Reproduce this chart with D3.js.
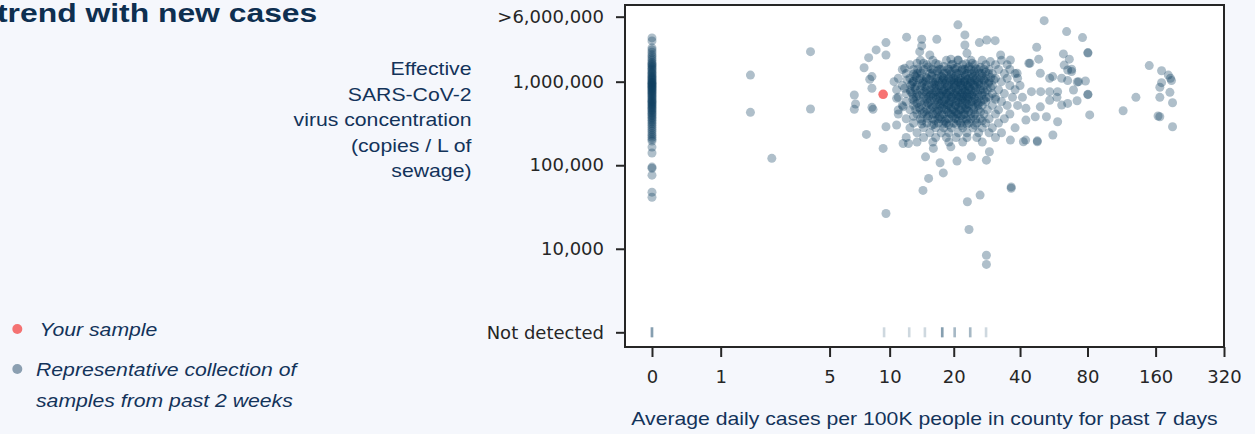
<!DOCTYPE html>
<html><head><meta charset="utf-8">
<script src="https://cdn.jsdelivr.net/npm/d3@7"></script>
<style>
html,body{margin:0;padding:0;background:#f5f7fc;overflow:hidden;}
svg{display:block;}
</style></head><body>
<svg id="chart" width="1255" height="434"></svg>
<script>
// ---- data ----
const titleText = "trend with new cases";
const yLabelLines = ["Effective", "SARS-CoV-2", "virus concentration", "(copies / L of", "sewage)"];
const xLabelText = "Average daily cases per 100K people in county for past 7 days";
const legendLabels = [["Your sample"], ["Representative collection of", "samples from past 2 weeks"]];

const xTickValues = [0, 1, 5, 10, 20, 40, 80, 160, 320];
const yTickValues = [1000, 10000, 100000, 1000000, 6000000];
const yTickLabels = ["Not detected", "10,000", "100,000", "1,000,000", ">6,000,000"];

// samples with no virus detected (cases per 100K)
const notDetectedCases = [0, 0, 0, 9.4, 12.4, 14.7, 17.7, 17.7, 17.7, 20.2, 20.2, 23.8, 23.8, 28.1];

// samples from counties with 0 cases (concentration, copies / L)
const zeroCaseConc = [3340000, 3080000, 2540000, 2400000, 2250000, 2100000, 2000000, 1900000, 1800000, 1700000,
  1650000, 1600000, 1550000, 1500000, 1450000, 1400000, 1350000, 1300000, 1260000, 1220000, 1180000, 1150000,
  1120000, 1090000, 1060000, 1030000, 1000000, 980000, 960000, 940000, 920000, 900000, 880000, 860000, 840000,
  820000, 800000, 780000, 760000, 740000, 720000, 700000, 680000, 660000, 640000, 620000, 600000, 585000,
  570000, 555000, 540000, 525000, 510000, 495000, 480000, 465000, 450000, 435000, 420000, 405000, 390000,
  375000, 360000, 345000, 330000, 315000, 300000, 285000, 270000, 255000, 240000, 228000, 216000, 205000,
  195000, 165000, 140000, 95000, 92000, 76000, 47600, 41400];

// [cases per 100K, concentration]
const samplePoints = [
  [1.7, 1200000], [1.7, 430000], [2.35, 121000], [3.95, 2290000], [3.95, 471000],
  [6.7, 693000], [6.8, 540000], [6.7, 467000], [7.5, 1470000], [7.9, 1940000], [8.6, 2400000], [9.6, 2940000],
  [9.6, 2090000], [8.2, 1150000], [8.0, 1070000], [8.2, 834000], [8.2, 493000], [8.3, 467000], [9.6, 289000],
  [7.7, 234000], [9.3, 159000], [9.6, 26400],
  [12.05, 3410000], [14.2, 3220000], [14.2, 2680000], [16.7, 3220000], [13.9, 2290000], [15.5, 2090000],
  [20.9, 4790000], [22.5, 3630000], [22.5, 2750000], [23, 2190000], [26.2, 2940000], [28.3, 3160000],
  [30.9, 3100000], [51.3, 5380000], [64.6, 3980000], [47.5, 2580000], [62.5, 2150000], [48.5, 1860000],
  [43.8, 1660000], [11.8, 1450000], [12.1, 1050000], [13, 1240000], [13.5, 1660000], [14.5, 1660000],
  [19.4, 1860000], [20.9, 1820000], [24.3, 1660000], [29.4, 1740000], [32.7, 2090000], [36.2, 1820000],
  [38.8, 1260000], [44.3, 1660000], [49.3, 1260000], [54.3, 1100000], [61.4, 1100000], [63, 1580000],
  [65.3, 1380000], [45, 760000], [49.5, 760000], [54.3, 760000], [58.9, 760000], [54.3, 600000],
  [61.4, 525000], [49.3, 500000], [42.5, 480000], [46.8, 380000], [42.5, 347000], [52.5, 380000],
  [58.9, 331000], [56.1, 230000], [47.8, 196000], [42.4, 200000], [36.2, 200000],
  [10.8, 303000], [11, 458000], [10.8, 632000], [11.6, 500000], [11.8, 834000], [11.6, 182000],
  [12.3, 182000], [14.8, 126000], [17.3, 107000], [17.9, 81000], [15.3, 69600], [20.7, 112000],
  [24.1, 126000], [28.2, 115000], [29.1, 145000], [16.1, 159000], [19.4, 166000],
  [14.4, 50000], [23.1, 36600], [26.4, 43900], [23.5, 17000], [28.2, 8360], [28.2, 6500], [36.5, 55000],
  [36.5, 53000], [41.4, 191000], [47.8, 191000],
  [76, 3370000], [80.3, 2230000], [80.3, 2200000], [66.4, 1860000], [68, 1410000], [68, 1320000],
  [56, 1150000], [65.3, 1030000], [73, 1000000], [72, 990000], [78.3, 1020000], [69.3, 795000],
  [80.3, 706000], [80.3, 700000], [58.5, 650000], [71.9, 592000], [65.3, 550000], [81.8, 400000],
  [115, 449000], [131, 650000], [150, 1560000], [170, 1350000], [182, 1200000], [186, 1100000],
  [188, 1030000], [170, 973000], [167, 857000], [185, 746000], [167, 650000], [190, 560000],
  [164, 388000], [167, 380000], [190, 289000],
  // dense cluster
  [14, 1800000], [16, 1800000], [18.5, 1800000], [21, 1800000], [24, 1800000], [27, 1800000], [33, 1800000],
  [12.5, 1600000], [15, 1600000], [17, 1600000], [19.5, 1600000], [22, 1600000], [25, 1600000], [28, 1600000], [31, 1600000], [35, 1600000],
  [11.5, 1400000], [13, 1400000], [14.5, 1400000], [16, 1400000], [17.5, 1400000], [19, 1400000], [20.5, 1400000], [22.5, 1400000], [24, 1400000], [26, 1400000], [29, 1400000], [32, 1400000], [36, 1400000],
  [12, 1250000], [13.5, 1250000], [15.5, 1250000], [17, 1250000], [18, 1250000], [19.5, 1250000], [21, 1250000], [23, 1250000], [25, 1250000], [27, 1250000], [30, 1250000], [34, 1250000], [38, 1250000],
  [11, 1100000], [12.5, 1100000], [14, 1100000], [15, 1100000], [16.5, 1100000], [18, 1100000], [19, 1100000], [20, 1100000], [21.5, 1100000], [23.5, 1100000], [25.5, 1100000], [28, 1100000], [31, 1100000], [35, 1100000], [39, 1100000],
  [10.5, 1000000], [13, 1000000], [14.5, 1000000], [16, 1000000], [17, 1000000], [18.5, 1000000], [20, 1000000], [21, 1000000], [22.5, 1000000], [24, 1000000], [26, 1000000], [29, 1000000], [33, 1000000],
  [11.5, 900000], [13.5, 900000], [15, 900000], [16.5, 900000], [17.5, 900000], [19, 900000], [20.5, 900000], [22, 900000], [23, 900000], [25, 900000], [27.5, 900000], [30, 900000], [36, 900000], [40, 900000],
  [10.8, 800000], [12.5, 800000], [14, 800000], [15.5, 800000], [17, 800000], [18, 800000], [19.5, 800000], [21, 800000], [22.5, 800000], [24, 800000], [26.5, 800000], [28.5, 800000], [32, 800000], [38, 800000],
  [12, 720000], [13.5, 720000], [15, 720000], [16, 720000], [17.5, 720000], [18.5, 720000], [20, 720000], [21.5, 720000], [23, 720000], [24.5, 720000], [27, 720000], [30, 720000], [34, 720000],
  [11, 650000], [13, 650000], [14.5, 650000], [16, 650000], [17, 650000], [18.5, 650000], [19.5, 650000], [21, 650000], [22, 650000], [23.5, 650000], [26, 650000], [29, 650000], [31, 650000], [37, 650000], [41, 650000],
  [12, 580000], [14, 580000], [15.5, 580000], [17, 580000], [18, 580000], [19.5, 580000], [20.5, 580000], [22, 580000], [24, 580000], [25.5, 580000], [28, 580000], [33, 580000],
  [11.5, 520000], [13, 520000], [15, 520000], [16.5, 520000], [18, 520000], [19, 520000], [20.5, 520000], [22.5, 520000], [24.5, 520000], [27, 520000], [30, 520000], [35, 520000], [39, 520000],
  [12.5, 460000], [14, 460000], [15.5, 460000], [17, 460000], [18.5, 460000], [20, 460000], [21.5, 460000], [23, 460000], [26, 460000], [28.5, 460000], [32, 460000],
  [11, 410000], [13.5, 410000], [15, 410000], [16.5, 410000], [18, 410000], [19.5, 410000], [21, 410000], [22.5, 410000], [25, 410000], [27.5, 410000], [31, 410000], [36, 410000],
  [12, 360000], [14, 360000], [16, 360000], [17.5, 360000], [19, 360000], [20.5, 360000], [22, 360000], [24, 360000], [26.5, 360000], [29, 360000], [34, 360000],
  [13, 320000], [15, 320000], [17, 320000], [18.5, 320000], [20, 320000], [21.5, 320000], [23.5, 320000], [25.5, 320000], [28, 320000], [32, 320000],
  [12.5, 280000], [14.5, 280000], [16.5, 280000], [18, 280000], [19.5, 280000], [22, 280000], [24.5, 280000], [27, 280000], [30, 280000], [38, 280000],
  [13.5, 245000], [15.5, 245000], [17.5, 245000], [19, 245000], [21, 245000], [23, 245000], [26, 245000], [29, 245000], [33, 245000],
  [12, 215000], [14.5, 215000], [16.5, 215000], [18.5, 215000], [20.5, 215000], [23, 215000], [25.5, 215000], [31, 215000],
  [13.5, 190000], [16, 190000], [19, 190000], [22, 190000], [27, 190000],
  // dense core (staggered)
  [15.2, 1500000], [18, 1520000], [20.8, 1480000], [23.5, 1510000], [26.5, 1490000],
  [14, 1330000], [16.8, 1340000], [19.2, 1320000], [21.8, 1350000], [24.8, 1330000], [28, 1310000],
  [13.2, 1170000], [15.8, 1180000], [17.6, 1160000], [20.4, 1170000], [22.6, 1190000], [24.6, 1160000], [27, 1170000],
  [13.8, 1050000], [15.4, 1060000], [17.8, 1040000], [19.6, 1050000], [21.7, 1030000], [23, 1060000], [25, 1050000], [27.5, 1040000], [30.5, 1050000],
  [12.8, 950000], [14.3, 960000], [16.2, 940000], [18.2, 955000], [20.2, 945000], [21.5, 960000], [23.8, 950000], [26, 940000], [28.8, 955000],
  [13.2, 850000], [14.8, 860000], [16.3, 845000], [18.6, 855000], [20, 850000], [22, 840000], [23.6, 860000], [25.5, 850000], [29.5, 845000],
  [12.6, 760000], [14.6, 765000], [16.5, 755000], [17.8, 770000], [19.2, 760000], [20.8, 750000], [22.6, 765000], [24.8, 760000], [27.8, 755000],
  [13.8, 685000], [15.6, 690000], [17.3, 680000], [18.9, 690000], [20.6, 685000], [22.4, 675000], [24.2, 690000], [26.8, 685000],
  [12.9, 615000], [15, 620000], [16.7, 610000], [18.3, 615000], [20, 625000], [21.8, 610000], [23.2, 615000], [25, 620000], [27.5, 610000], [31, 615000],
  [13.5, 550000], [15.2, 555000], [17.4, 545000], [19, 550000], [21.2, 555000], [23, 545000], [25.8, 550000],
  [13.8, 490000], [16, 495000], [17.6, 485000], [19.4, 490000], [21, 495000], [22.8, 485000], [24.8, 490000],
  [14.6, 435000], [16.8, 440000], [18.8, 430000], [20.4, 435000], [23.4, 440000], [26.5, 435000],
  [13, 385000], [15.3, 390000], [17.2, 380000], [19.8, 385000], [21.6, 390000], [24.6, 385000],
  [14.2, 340000], [16.4, 345000], [18.2, 335000], [21, 340000], [23, 345000], [27, 340000],
  [15.8, 300000], [19, 305000], [21.8, 298000], [25, 302000],
  // darkest core
  [16.5, 1650000], [19.8, 1620000], [22.8, 1640000],
  [13.6, 1420000], [15.7, 1430000], [17.2, 1410000], [18.8, 1420000], [20.2, 1440000], [21.9, 1410000], [23.3, 1430000], [25.3, 1420000], [27.5, 1410000],
  [14.2, 1260000], [15.9, 1270000], [18.6, 1250000], [20.6, 1260000], [22.3, 1270000], [24.2, 1250000], [26.3, 1260000], [28.8, 1250000],
  [13.4, 1120000], [14.9, 1130000], [16.8, 1110000], [17.9, 1120000], [19.4, 1130000], [21, 1115000], [22.6, 1125000], [24.4, 1120000], [26.6, 1110000], [29.5, 1120000],
  [12.9, 1005000], [14.8, 1010000], [16.4, 995000], [17.7, 1000000], [19.3, 1010000], [20.9, 995000], [22.3, 1005000], [23.8, 1000000], [25.6, 995000], [27.8, 1010000],
  [12.6, 905000], [14.2, 895000], [15.8, 905000], [17.2, 900000], [18.7, 895000], [20.1, 905000], [21.6, 900000], [23.3, 895000], [24.6, 905000], [26.5, 900000],
  [13.3, 805000], [14.9, 800000], [16.2, 795000], [17.6, 805000], [19, 800000], [20.5, 795000], [21.8, 805000], [23.4, 800000], [25.2, 795000], [27.3, 805000],
  [12.8, 725000], [14.3, 720000], [15.7, 715000], [17.1, 725000], [18.6, 720000], [20.3, 715000], [21.9, 725000], [23.6, 720000], [25.7, 715000],
  [13.4, 655000], [15.3, 650000], [16.6, 645000], [18, 655000], [19.6, 650000], [21.4, 645000], [22.9, 655000], [24.8, 650000], [28.2, 645000],
  [13.1, 585000], [14.7, 580000], [16.3, 575000], [17.7, 585000], [19.2, 580000], [20.9, 575000], [22.7, 585000], [24.3, 580000], [26.6, 575000],
  [14.2, 525000], [15.8, 520000], [17.3, 515000], [18.7, 525000], [20.3, 520000], [21.8, 515000], [23.5, 525000], [25.9, 520000],
  [13.3, 465000], [15, 460000], [16.4, 455000], [18, 465000], [19.6, 460000], [21.2, 455000], [22.6, 465000], [24.7, 460000],
  [14.3, 415000], [16, 410000], [17.6, 405000], [19.1, 415000], [20.7, 410000], [22.2, 405000], [24, 415000],
  [15.1, 365000], [16.9, 360000], [18.5, 355000], [20.2, 365000], [22.8, 360000], [25.2, 355000],
  [14.2, 312000], [16.2, 308000], [17.9, 312000], [20.6, 308000], [23, 312000]
];

const yourSample = [[9.3, 707000]];

// ---- drawing ----
const svg = d3.select("#chart");
const W = 1255, H = 434;
const plot = { left: 625, right: 1224, top: 5, bottom: 347 };
const navy = "#13335a";
const pointColor = "#0b3c5d";

svg.append("rect").attr("width", W).attr("height", H).attr("fill", "#f5f7fc");

const x = d3.scaleSymlog().constant(1).domain([-0.313, 320]).range([plot.left, plot.right]);
const y = d3.scaleLog().domain([667, 8280000]).range([plot.bottom, plot.top]);

svg.append("rect")
  .attr("x", plot.left).attr("y", plot.top)
  .attr("width", plot.right - plot.left).attr("height", plot.bottom - plot.top)
  .attr("fill", "#ffffff");

function scaledText(g, tx, ty, txt, opts) {
  return g.append("text")
    .attr("transform", `translate(${tx},${ty}) scale(${opts.sx || 1},1)`)
    .attr("font-family", opts.family || "'Liberation Sans', Arial, sans-serif")
    .attr("font-size", opts.size)
    .attr("font-weight", opts.weight || "normal")
    .attr("font-style", opts.style || "normal")
    .attr("text-anchor", opts.anchor || "start")
    .attr("fill", opts.fill || navy)
    .text(txt);
}

// title (cut at the left edge, as in the reference)
scaledText(svg, -3, 22, titleText, { size: 26, weight: "bold", sx: 1.225, fill: "#0e2f50" });

// y label
yLabelLines.forEach((ln, i) => {
  scaledText(svg, 471.5, 75 + i * 25.5, ln, { size: 18.6, sx: 1.14, anchor: "end" });
});

// legend
const legendColors = ["#f47272", "#8b9fb1"];
const legendY = [[336], [376, 407]];
const legendDotY = [329, 369];
legendLabels.forEach((lines, i) => {
  svg.append("circle").attr("cx", 17.3).attr("cy", legendDotY[i]).attr("r", 5).attr("fill", legendColors[i]);
  lines.forEach((ln, j) => {
    scaledText(svg, i === 0 ? 39.5 : 36, legendY[i][j], ln, { size: 18.6, sx: 1.14, style: "italic" });
  });
});

// x label
scaledText(svg, (plot.left + plot.right) / 2, 425, xLabelText, { size: 18.6, sx: 1.14, anchor: "middle" });

// points
const gp = svg.append("g");
gp.selectAll("circle.zero").data(zeroCaseConc).enter().append("circle")
  .attr("cx", x(0)).attr("cy", d => y(d)).attr("r", 4.5)
  .attr("fill", pointColor).attr("fill-opacity", 0.33);
gp.selectAll("circle.samp").data(samplePoints).enter().append("circle")
  .attr("cx", d => x(d[0])).attr("cy", d => y(d[1])).attr("r", 4.5)
  .attr("fill", pointColor).attr("fill-opacity", 0.33);
gp.selectAll("rect.nd").data(notDetectedCases).enter().append("rect")
  .attr("x", d => x(d) - 1.3).attr("y", y(1000) - 5).attr("width", 2.6).attr("height", 10)
  .attr("fill", pointColor).attr("fill-opacity", 0.2);
gp.selectAll("circle.you").data(yourSample).enter().append("circle")
  .attr("cx", d => x(d[0])).attr("cy", d => y(d[1])).attr("r", 4.8)
  .attr("fill", "#f76c6c").attr("fill-opacity", 0.95);

// axes
const tickFont = "'DejaVu Sans', sans-serif";
const yAxis = d3.axisLeft(y).tickValues(yTickValues).tickFormat((d, i) => yTickLabels[i]).tickSize(9).tickPadding(12);
const gy = svg.append("g").attr("transform", `translate(${plot.left},0)`).call(yAxis);
const xAxis = d3.axisBottom(x).tickValues(xTickValues).tickFormat(d => String(d)).tickSize(10).tickPadding(13);
const gx = svg.append("g").attr("transform", `translate(0,${plot.bottom})`).call(xAxis);
[gy, gx].forEach(g => {
  g.select(".domain").remove();
  g.selectAll(".tick line").attr("stroke", "#262626").attr("stroke-width", 2);
  g.selectAll(".tick text").attr("fill", "#262626").attr("font-family", tickFont).attr("font-size", 18);
});

// frame
svg.append("rect")
  .attr("x", plot.left).attr("y", plot.top)
  .attr("width", plot.right - plot.left).attr("height", plot.bottom - plot.top)
  .attr("fill", "none").attr("stroke", "#262626").attr("stroke-width", 2);
</script>
</body></html>
